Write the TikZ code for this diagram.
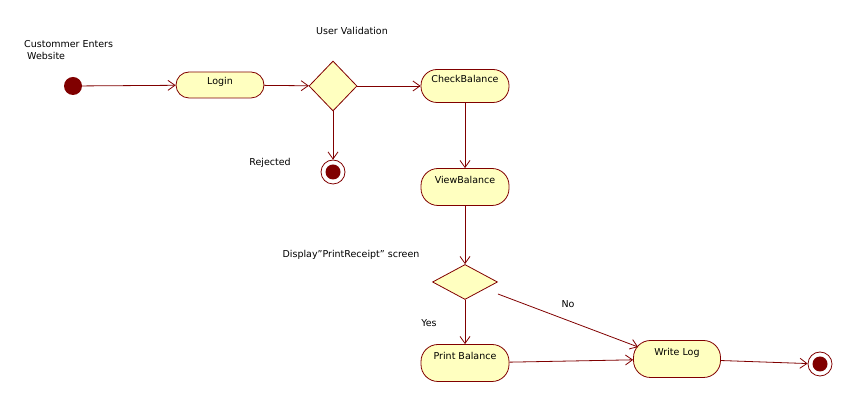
\documentclass[tikz,border=0pt]{standalone}
\usepackage{fontspec}
\setmainfont{DejaVu Sans}
\usepackage{tikz}
\usetikzlibrary{positioning, arrows.meta, shapes.geometric}
\definecolor{umlline}{RGB}{128,0,0}
\definecolor{umlfill}{RGB}{255,255,192}
\tikzset{
  activity/.style={
    rectangle, rounded corners=17pt, draw=umlline, fill=umlfill, line width=0.8pt,
    minimum width=88pt, inner sep=0pt, text height=15pt, text depth=22pt
  },
  decision/.style={diamond, draw=umlline, fill=umlfill, line width=0.8pt, inner sep=0pt},
  startstate/.style={circle, fill=umlline, minimum size=18pt, inner sep=0pt},
  endstate/.style={
    circle, draw=umlline, fill=white, line width=0.8pt, minimum size=24pt, inner sep=0pt,
    path picture={\fill[umlline] (path picture bounding box.center) circle (7.5pt);}
  },
  note/.style={inner sep=1pt},
  flow/.style={->, draw=umlline, line width=0.8pt},
  >={Straight Barb[length=7pt,width=10pt]},
}

\begin{document}
\begin{tikzpicture}[x=1pt, y=1pt, font=\fontsize{9.5}{12}\selectfont]
  \useasboundingbox (0,0) rectangle (853,403);

  \node[startstate] (start) at (73,317) {};
  \node[note, anchor=west, align=left] (cust) at (23,353) {Custommer Enters\\\hspace{3pt}Website};
  \node[activity, rounded corners=13pt, text height=13pt, text depth=13pt] (login) at (220,318) {Login};
  \node[decision, minimum width=48pt, minimum height=50pt] (valid) at (333,317) {};
  \node[note] (validlbl) at (352,372) {User Validation};
  \node[activity, rounded corners=16pt, text height=13pt, text depth=20pt] (check) at (465,317) {CheckBalance};
  \node[endstate] (reject) at (333,231) {};
  \node[note] (rejlbl) at (270,240) {Rejected};
  \node[activity] (view) at (465,216) {ViewBalance};
  \node[decision, minimum width=65pt, minimum height=35pt] (receipt) at (465,121) {};
  \node[note] (receiptlbl) at (351,148) {Display"PrintReceipt" screen};
  \node[note] (yes) at (429,80) {Yes};
  \node[note] (no) at (568,99) {No};
  \node[activity] (print) at (465,40) {Print Balance};
  \node[activity, minimum width=87pt] (wlog) at (677,44) {Write Log};
  \node[endstate] (done) at (820,39) {};

  \draw[flow] (start) -- (login);
  \draw[flow] (login) -- (valid);
  \draw[flow] (valid) -- (check);
  \draw[flow] (valid) -- (reject);
  \draw[flow] (check) -- (view);
  \draw[flow] (view) -- (receipt);
  \draw[flow] (receipt) -- (print);
  \draw[flow] ([yshift=-12pt]receipt.east) -- ([shift={(5pt,12pt)}]wlog.west);
  \draw[flow] (print) -- (wlog);
  \draw[flow] (wlog) -- (done);
\end{tikzpicture}
\end{document}
